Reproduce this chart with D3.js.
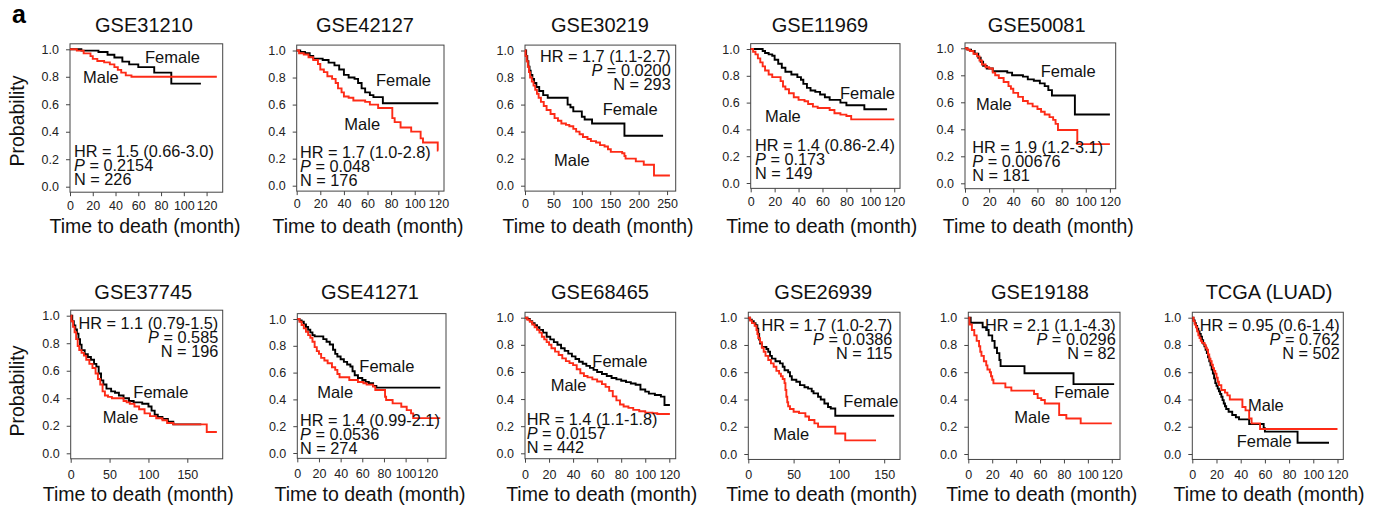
<!DOCTYPE html>
<html><head><meta charset="utf-8">
<script src="https://cdn.jsdelivr.net/npm/d3@7"></script>
<style>
body{margin:0;background:#fff}
text{font-family:"Liberation Sans",Arial,Helvetica,sans-serif}
</style>
</head><body>
<svg id="c" width="1374" height="515"></svg>
<script>
// ---------------- DATA ----------------
const titles = ["GSE31210","GSE42127","GSE30219","GSE11969","GSE50081",
                "GSE37745","GSE41271","GSE68465","GSE26939","GSE19188","TCGA (LUAD)"];
const hrText = ["1.5 (0.66-3.0)","1.7 (1.0-2.8)","1.7 (1.1-2.7)","1.4 (0.86-2.4)","1.9 (1.2-3.1)",
                "1.1 (0.79-1.5)","1.4 (0.99-2.1)","1.4 (1.1-1.8)","1.7 (1.0-2.7)","2.1 (1.1-4.3)","0.95 (0.6-1.4)"];
const pText  = ["0.2154","0.048","0.0200","0.173","0.00676",
                "0.585","0.0536","0.0157","0.0386","0.0296","0.762"];
const nText  = ["226","176","293","149","181","196","274","442","115","82","502"];
const xTicks120 = [0,20,40,60,80,100,120];
const xTicks250 = [0,50,100,150,200,250];
const xTicks150 = [0,50,100,150];
const yTicks = [0,0.2,0.4,0.6,0.8,1.0];

// Kaplan-Meier steps: [time (month), survival probability]
const gse31210_female = [[0,1],[10,0.99],[25,0.98],[33,0.96],[39,0.94],[46,0.91],[52,0.89],[60,0.87],[74,0.83],[89,0.75],[115,0.75]];
const gse31210_male   = [[0,1],[6,0.99],[12,0.97],[18,0.95],[20,0.93],[24,0.915],[30,0.905],[35,0.89],[39,0.87],[42,0.85],[45,0.83],[49,0.81],[54,0.80],[129,0.80]];

const gse42127_female = [[0,1],[3,0.99],[7,0.98],[11,0.96],[14,0.94],[22,0.93],[27,0.91],[32,0.89],[36,0.86],[40,0.82],[44,0.80],[49,0.79],[52,0.76],[55,0.72],[58,0.69],[62,0.67],[65,0.655],[73,0.61],[120,0.61]];
const gse42127_male   = [[0,1],[2,0.98],[6,0.97],[10,0.95],[14,0.93],[18,0.90],[20,0.86],[23,0.84],[26,0.81],[30,0.79],[33,0.76],[35,0.72],[38,0.69],[40,0.66],[44,0.65],[48,0.63],[58,0.62],[62,0.60],[69,0.575],[81,0.50],[83,0.47],[88,0.43],[97,0.40],[105,0.35],[107,0.32],[119.5,0.26],[120,0.26]];

const gse30219_female = [[0,1],[2,0.96],[4,0.92],[6,0.88],[8,0.85],[10,0.82],[13,0.79],[16,0.76],[20,0.73],[25,0.70],[32,0.67],[40,0.65],[75,0.60],[80,0.58],[85,0.55],[100,0.51],[105,0.49],[118,0.46],[175,0.37],[243,0.37]];
const gse30219_male   = [[0,1],[1,0.96],[3,0.92],[5,0.88],[7,0.84],[9,0.80],[12,0.77],[15,0.74],[18,0.71],[21,0.68],[24,0.65],[28,0.62],[33,0.59],[38,0.56],[45,0.53],[52,0.50],[58,0.48],[64,0.46],[72,0.45],[78,0.44],[85,0.42],[90,0.40],[96,0.38],[102,0.36],[110,0.345],[116,0.33],[125,0.32],[132,0.30],[140,0.29],[146,0.27],[151,0.25],[171,0.24],[175,0.22],[177,0.20],[195,0.18],[209,0.155],[227,0.075],[255,0.075]];

const gse11969_female = [[0,1],[10,0.985],[12,0.97],[15,0.96],[18,0.95],[20,0.92],[23,0.89],[26,0.86],[29,0.83],[34,0.81],[39,0.79],[42,0.77],[44,0.74],[47,0.71],[50,0.69],[54,0.68],[58,0.66],[62,0.64],[66,0.62],[75,0.60],[80,0.58],[95,0.55],[114,0.55]];
const gse11969_male   = [[0,1],[2,0.98],[4,0.96],[6,0.93],[8,0.90],[10,0.87],[12,0.84],[15,0.81],[18,0.79],[25,0.76],[27,0.72],[29,0.70],[32,0.67],[36,0.64],[40,0.62],[45,0.61],[48,0.59],[52,0.57],[56,0.56],[66,0.545],[70,0.52],[75,0.51],[80,0.50],[84,0.475],[120,0.475]];

const gse50081_female = [[0,1],[2,0.99],[5,0.98],[8,0.96],[11,0.93],[13,0.90],[15,0.87],[18,0.85],[23,0.83],[35,0.82],[39,0.80],[48,0.79],[52,0.77],[57,0.76],[62,0.74],[66,0.72],[69,0.69],[72,0.65],[91,0.51],[120,0.51]];
const gse50081_male   = [[0,1],[2,0.99],[4,0.98],[7,0.96],[10,0.94],[12,0.91],[14,0.88],[17,0.86],[20,0.85],[23,0.82],[25,0.80],[28,0.78],[32,0.75],[36,0.72],[38,0.70],[40,0.67],[44,0.64],[48,0.61],[52,0.59],[56,0.57],[60,0.55],[63,0.53],[66,0.51],[70,0.49],[73,0.47],[75,0.44],[77,0.395],[93,0.29],[120,0.29]];

const gse37745_female = [[0,1],[2,0.96],[4,0.93],[6,0.90],[8,0.87],[10,0.83],[12,0.79],[14,0.75],[18,0.72],[22,0.70],[26,0.68],[30,0.65],[33,0.63],[36,0.58],[39,0.53],[42,0.50],[46,0.47],[52,0.45],[57,0.44],[62,0.42],[68,0.40],[75,0.38],[81,0.37],[92,0.36],[100,0.34],[104,0.31],[108,0.28],[112,0.265],[118,0.25],[125,0.23],[132,0.21],[168,0.21]];
const gse37745_male   = [[0,1],[1,0.96],[3,0.92],[5,0.88],[7,0.83],[9,0.78],[11,0.75],[14,0.73],[17,0.71],[20,0.68],[24,0.65],[28,0.62],[32,0.58],[35,0.54],[38,0.50],[41,0.45],[44,0.42],[48,0.41],[53,0.40],[68,0.38],[72,0.37],[76,0.36],[82,0.34],[88,0.32],[95,0.29],[102,0.27],[110,0.255],[118,0.24],[124,0.22],[132,0.21],[175,0.155],[188,0.155]];

const gse41271_female = [[0,1],[2,0.99],[4,0.98],[6,0.96],[8,0.94],[10,0.92],[12,0.90],[14,0.88],[16,0.87],[24,0.85],[27,0.83],[30,0.81],[33,0.77],[35,0.74],[37,0.72],[40,0.70],[43,0.68],[46,0.66],[49,0.645],[51,0.61],[53,0.58],[56,0.56],[60,0.545],[63,0.53],[66,0.52],[70,0.50],[73,0.488],[132,0.488]];
const gse41271_male   = [[0,1],[2,0.98],[4,0.955],[6,0.93],[8,0.905],[10,0.88],[12,0.86],[14,0.83],[16,0.79],[18,0.76],[20,0.74],[22,0.71],[25,0.69],[28,0.67],[32,0.64],[35,0.62],[37,0.59],[39,0.565],[48,0.545],[56,0.53],[61,0.52],[64,0.51],[70,0.495],[72,0.47],[81,0.42],[82,0.395],[88,0.37],[96,0.345],[101,0.32],[105,0.296],[107,0.26],[132,0.26]];

const gse68465_female = [[0,1],[2,0.99],[4,0.975],[6,0.96],[8,0.945],[10,0.93],[12,0.91],[15,0.89],[18,0.86],[21,0.84],[24,0.82],[27,0.80],[30,0.775],[33,0.755],[36,0.735],[39,0.715],[42,0.695],[45,0.675],[48,0.66],[51,0.645],[54,0.63],[57,0.615],[60,0.60],[64,0.585],[68,0.57],[72,0.555],[76,0.545],[80,0.535],[84,0.525],[88,0.515],[92,0.505],[96,0.47],[100,0.455],[103,0.44],[108,0.43],[113,0.418],[116,0.356],[120.5,0.356]];
const gse68465_male   = [[0,1],[2,0.985],[4,0.97],[6,0.95],[8,0.93],[10,0.91],[12,0.89],[14,0.86],[16,0.84],[18,0.82],[20,0.80],[22,0.775],[25,0.75],[28,0.725],[31,0.70],[34,0.68],[37,0.665],[40,0.65],[43,0.62],[46,0.59],[49,0.57],[52,0.56],[56,0.545],[60,0.53],[64,0.51],[67,0.49],[70,0.46],[73,0.42],[76,0.39],[79,0.36],[82,0.345],[86,0.335],[90,0.32],[95,0.31],[100,0.30],[106,0.295],[110,0.29],[120.5,0.29]];

const gse26939_female = [[0,1],[2,0.985],[4,0.975],[6,0.96],[8,0.945],[10,0.92],[11,0.88],[12,0.84],[13,0.81],[15,0.785],[20,0.77],[22,0.75],[24,0.72],[26,0.70],[30,0.68],[35,0.665],[38,0.64],[40,0.615],[44,0.60],[46,0.57],[48,0.545],[53,0.53],[57,0.505],[62,0.49],[66,0.48],[70,0.46],[72,0.445],[77,0.42],[80,0.40],[84,0.37],[88,0.345],[91,0.334],[96,0.281],[161,0.281]];
const gse26939_male   = [[0,1],[2,0.98],[4,0.96],[7,0.94],[9,0.91],[10,0.88],[11,0.85],[13,0.82],[15,0.78],[17,0.75],[19,0.72],[22,0.69],[25,0.665],[28,0.64],[31,0.61],[34,0.59],[36,0.57],[38,0.55],[40,0.52],[41,0.47],[42,0.42],[43,0.38],[44,0.35],[46,0.33],[50,0.31],[56,0.30],[63,0.275],[67,0.25],[73,0.225],[77,0.20],[96,0.15],[107,0.10],[141,0.10]];

const gse19188_female = [[0,1],[2,0.963],[12,0.93],[15,0.91],[17,0.87],[20,0.83],[22,0.78],[24,0.74],[26,0.69],[27,0.645],[47,0.592],[88,0.513],[122,0.513]];
const gse19188_male   = [[0,1],[1,0.95],[3,0.91],[5,0.87],[7,0.83],[9,0.79],[10,0.75],[11,0.72],[13,0.68],[15,0.65],[16,0.62],[18,0.60],[19,0.57],[20,0.545],[21,0.518],[31,0.489],[36,0.465],[55,0.44],[58,0.41],[61,0.396],[64,0.37],[76,0.286],[82,0.26],[94,0.225],[120,0.225]];

const tcga_female = [[0,1],[1,0.98],[2,0.96],[3,0.94],[4,0.92],[5,0.90],[6,0.88],[7,0.86],[8,0.835],[9,0.81],[10,0.79],[11,0.765],[12,0.74],[13,0.71],[14,0.68],[15,0.65],[16,0.62],[17,0.59],[18,0.555],[19,0.52],[20,0.50],[21,0.48],[22,0.46],[23,0.44],[24,0.42],[25,0.395],[26,0.37],[27,0.35],[28,0.33],[30,0.31],[33,0.286],[36,0.27],[38.6,0.254],[47,0.22],[59,0.19],[60,0.164],[87,0.083],[113,0.083]];
const tcga_male   = [[0,1],[1,0.975],[2,0.95],[3,0.93],[4,0.90],[5,0.87],[6,0.85],[7,0.83],[8,0.815],[10,0.80],[11,0.78],[12,0.765],[13,0.73],[14,0.70],[15,0.68],[16,0.655],[17,0.63],[18,0.61],[19,0.59],[20,0.56],[21,0.53],[22,0.505],[24,0.47],[27,0.45],[29,0.43],[31,0.40],[41.4,0.345],[44,0.32],[47,0.26],[49,0.225],[56,0.183],[120,0.183]];

const femaleSeries = [gse31210_female,gse42127_female,gse30219_female,gse11969_female,gse50081_female,
                      gse37745_female,gse41271_female,gse68465_female,gse26939_female,gse19188_female,tcga_female];
const maleSeries   = [gse31210_male,gse42127_male,gse30219_male,gse11969_male,gse50081_male,
                      gse37745_male,gse41271_male,gse68465_male,gse26939_male,gse19188_male,tcga_male];
const xTickSets = [xTicks120,xTicks120,xTicks250,xTicks120,xTicks120,
                   xTicks150,xTicks120,xTicks120,xTicks150,xTicks120,xTicks120];

// ---------------- LAYOUT (pixels) ----------------
// left/right: plot box edges; y1/y0: pixel of probability 1.0 / 0.0
const layout = [
 {left:70,   right:222.7, y1:49.3, y0:186.7, tx:144,   lx:145,   hx:74,    hy:157, ha:"start", fx:145,   fy:63,   mx:83,    my:83,  row:0},
 {left:296.7,right:444,   y1:50.5, y0:185.7, tx:365,   lx:368,   hx:300,   hy:158, ha:"start", fx:376,   fy:86,   mx:344.3, my:130, row:0},
 {left:525,  right:675.7, y1:50.5, y0:185.7, tx:600,   lx:598,   hx:670.7, hy:62,  ha:"end",   fx:602.7, fy:115,  mx:554,   my:165.7,row:0},
 {left:750.7,right:900,   y1:49,   y0:183,   tx:820,   lx:821.7, hx:755,   hy:151, ha:"start", fx:840,   fy:99.3, mx:765,   my:121.7,row:0},
 {left:965,  right:1115.7,y1:48.3, y0:183.3, tx:1036.7,lx:1038.3,hx:972.3, hy:153, ha:"start", fx:1040.7,fy:76.7, mx:976,   my:110, row:0},
 {left:70.7, right:222.7, y1:315.7,y0:453.3, tx:143.3, lx:138.3, hx:218.3, hy:328.5,ha:"end",  fx:133.3, fy:398.3,mx:102.7, my:423.3,row:1},
 {left:297.3,right:446,   y1:319,  y0:453,   tx:370,   lx:370,   hx:300,   hy:426, ha:"start", fx:359.3, fy:371.7,mx:317.3, my:398.3,row:1},
 {left:525,  right:675.7, y1:317.7,y0:453.3, tx:600,   lx:601.7, hx:526.7, hy:425, ha:"start", fx:592.3, fy:367.3,mx:550.7, my:390.7,row:1},
 {left:748.3,right:900,   y1:317.7,y0:454,   tx:823.3, lx:821.7, hx:892.3, hy:330.7,ha:"end",  fx:843.3, fy:407.3,mx:773.3, my:440, row:1},
 {left:968.3,right:1120,  y1:317.7,y0:454,   tx:1040,  lx:1041.7,hx:1115.7,hy:330.7,ha:"end",  fx:1054.3,fy:398.3,mx:1014.3,my:423.3,row:1},
 {left:1192.3,right:1343.3,y1:317.7,y0:454,  tx:1269,  lx:1269,  hx:1339.7,hy:330.7,ha:"end",  fx:1236.7,fy:446.7,mx:1248,  my:410.7,row:1}
];
const rowTitleY = [32, 299];
const rowXLabY = [233, 501];
const rowProbY = [121, 391];
const RED = "#fd2b17";

const svg = d3.select("#c");
svg.append("text").attr("x",12).attr("y",23).attr("font-size",25).attr("font-weight","bold").text("a");

titles.forEach((title,i)=>{
  const L = layout[i];
  const fem = femaleSeries[i], mal = maleSeries[i];
  const maxT = d3.max(fem.concat(mal), d=>d[0]);
  const x = d3.scaleLinear().domain([0, maxT*1.04]).range([L.left, L.right]);
  const y = d3.scaleLinear().domain([0,1]).range([L.y0, L.y1]);
  const top = y(1.04), bot = y(-0.04);
  const g = svg.append("g");

  // title
  g.append("text").attr("x",L.tx).attr("y",rowTitleY[L.row]).attr("text-anchor","middle")
    .attr("font-size",20).attr("fill","#111").text(title);

  // box
  g.append("rect").attr("x",L.left).attr("y",top).attr("width",L.right-L.left).attr("height",bot-top)
    .attr("fill","none").attr("stroke","#444").attr("stroke-width",1);

  // axes
  const xa = g.append("g").attr("transform",`translate(0,${bot})`)
    .call(d3.axisBottom(x).tickValues(xTickSets[i]).tickFormat(d3.format("d")).tickSize(4).tickPadding(L.row?7:4.5));
  const ya = g.append("g").attr("transform",`translate(${L.left},0)`)
    .call(d3.axisLeft(y).tickValues(yTicks).tickFormat(d3.format(".1f")).tickSize(4).tickPadding(7));
  [xa,ya].forEach(a=>{
    a.select(".domain").remove();
    a.selectAll("line").attr("stroke","#444");
    a.selectAll("text").attr("font-size",12.5).attr("fill","#222")
      .style("font-family",'"Liberation Sans",Arial,sans-serif');
  });

  // curves
  const line = d3.line().x(d=>x(d[0])).y(d=>y(d[1])).curve(d3.curveStepAfter);
  g.append("path").datum(fem).attr("d",line).attr("fill","none").attr("stroke","#000").attr("stroke-width",1.9);
  g.append("path").datum(mal).attr("d",line).attr("fill","none").attr("stroke",RED).attr("stroke-width",1.9);

  // labels
  g.append("text").attr("x",L.fx).attr("y",L.fy).attr("font-size",16.5).attr("fill","#111").text("Female");
  g.append("text").attr("x",L.mx).attr("y",L.my).attr("font-size",16.5).attr("fill","#111").text("Male");

  // stats
  const st = g.append("g").attr("font-size",16.3).attr("fill","#111").attr("text-anchor",L.ha);
  st.append("text").attr("x",L.hx).attr("y",L.hy).text("HR = " + hrText[i]);
  const p = st.append("text").attr("x",L.hx).attr("y",L.hy+14.2);
  p.append("tspan").attr("font-style","italic").text("P");
  p.append("tspan").text(" = " + pText[i]);
  st.append("text").attr("x",L.hx).attr("y",L.hy+28.4).text("N = " + nText[i]);

  // x label
  g.append("text").attr("x",L.lx).attr("y",rowXLabY[L.row]).attr("text-anchor","middle")
    .attr("font-size",19.5).attr("fill","#111").text("Time to death (month)");

  if (i===0 || i===5) {
    g.append("text").attr("transform",`translate(17,${rowProbY[L.row]}) rotate(-90)`)
      .attr("text-anchor","middle").attr("dominant-baseline","central")
      .attr("font-size",19.5).attr("fill","#111").text("Probability");
  }
});
</script>
</body></html>
